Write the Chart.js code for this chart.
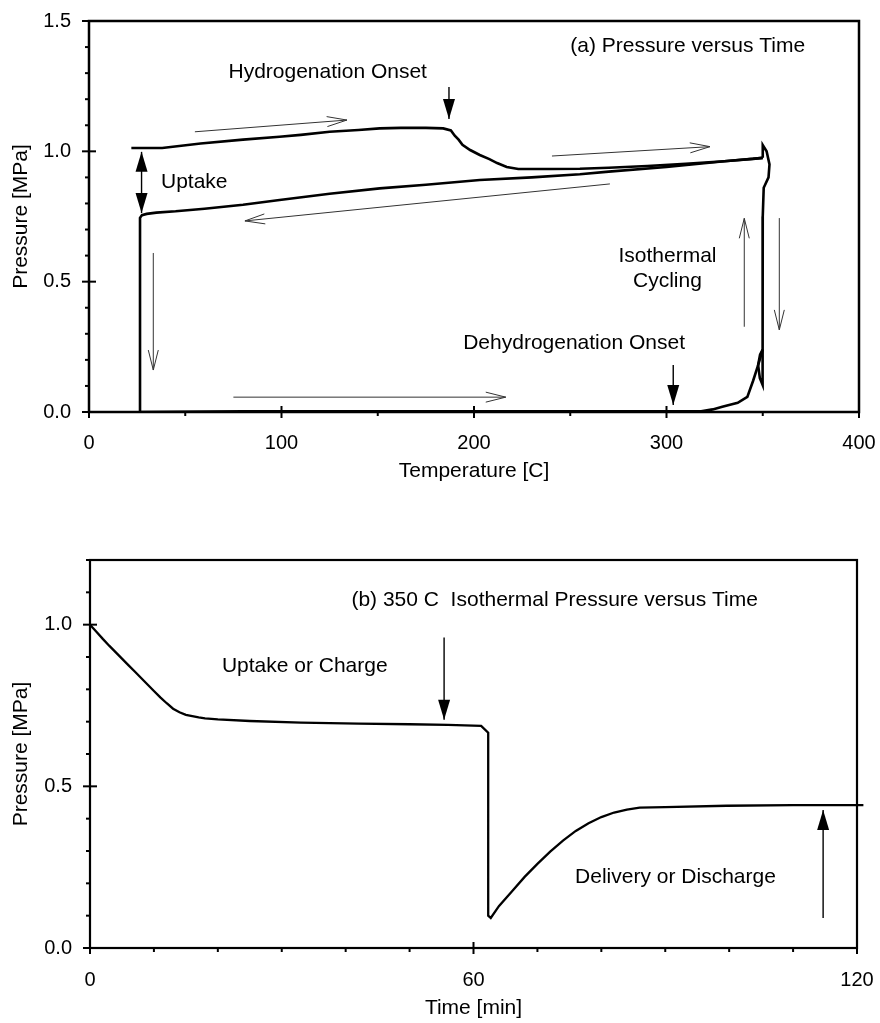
<!DOCTYPE html>
<html>
<head>
<meta charset="utf-8">
<title>Pressure cycling</title>
<script src="https://cdn.jsdelivr.net/npm/chart.js@4.4.1/dist/chart.umd.min.js"></script>
<style>
  html, body { margin: 0; padding: 0; background: #fff; }
  #wrap { position: relative; width: 880px; height: 1023px; }
  canvas { position: absolute; left: 0; }
  #tempChart { top: 0; }
  #timeChart { top: 520px; }
</style>
</head>
<body>
<div id="wrap">
  <canvas id="tempChart" width="880" height="520"></canvas>
  <canvas id="timeChart" width="880" height="503"></canvas>
</div>
<script>
// (a) pressure [MPa] against temperature [C]
// first heating under hydrogen
const heatChargedT = [22, 38, 58, 80, 99, 110, 125, 140, 151, 162, 175, 184, 188, 190, 192, 194, 198, 203, 208, 212, 217, 223, 240, 255, 270, 290, 310, 330, 345, 350];
const heatChargedP = [1.013, 1.013, 1.03, 1.045, 1.056, 1.063, 1.075, 1.082, 1.088, 1.09, 1.09, 1.088, 1.08, 1.06, 1.045, 1.025, 1.005, 0.986, 0.97, 0.955, 0.94, 0.932, 0.932, 0.933, 0.937, 0.944, 0.952, 0.962, 0.971, 0.975];
// cycling at 350 C
const isoT = [350, 350, 352, 353.5, 353, 350.5, 350, 350, 349.7, 350, 350, 348.5, 347.6, 348.6, 350];
const isoP = [0.975, 1.024, 1.0, 0.95, 0.9, 0.86, 0.75, 0.6, 0.5, 0.3, 0.104, 0.13, 0.18, 0.22, 0.24];
// cooling back down, then evacuated
const coolChargedT = [350, 330, 300, 270, 255, 230, 203, 175, 151, 125, 99, 80, 60, 45, 35, 30, 27.5, 26.5, 26.5];
const coolChargedP = [0.975, 0.962, 0.94, 0.922, 0.912, 0.9, 0.89, 0.872, 0.858, 0.837, 0.813, 0.795, 0.78, 0.77, 0.765, 0.76, 0.755, 0.745, 0];
// heating under vacuum until hydrogen is released
const heatEmptyT = [26.5, 80, 150, 220, 280, 318, 324, 329, 334, 337, 342, 345, 347.6, 350];
const heatEmptyP = [0, 0.003, 0.003, 0.003, 0.003, 0.003, 0.01, 0.02, 0.03, 0.035, 0.058, 0.12, 0.18, 0.24];

// (b) isothermal run at 350 C
const timeMin = [0, 1, 2, 3, 4, 5, 6, 7, 8, 9, 10, 11, 12, 13, 14, 15, 16, 17, 18, 20, 25, 33, 42, 50, 56, 61.2, 62.3, 62.3, 62.7, 64, 66, 68, 70, 72, 74, 76, 78, 80, 82, 84, 86, 90, 99.6, 110, 121];
const pressureMPa = [1.0, 0.978, 0.956, 0.935, 0.915, 0.895, 0.875, 0.855, 0.835, 0.815, 0.795, 0.775, 0.757, 0.74, 0.729, 0.721, 0.717, 0.713, 0.71, 0.707, 0.702, 0.697, 0.694, 0.692, 0.69, 0.687, 0.666, 0.1, 0.093, 0.13, 0.175, 0.22, 0.26, 0.298, 0.332, 0.362, 0.386, 0.405, 0.419, 0.428, 0.434, 0.436, 0.44, 0.442, 0.442];

const FONT = "'Liberation Sans', Arial, Helvetica, sans-serif";

function pts(xs, ys) {
    return xs.map((x, i) => ({x: x, y: ys[i]}));
}

function curve(data, width) {
    return {
        data: data,
        showLine: true,
        pointRadius: 0,
        borderColor: '#000',
        borderWidth: width,
        fill: false,
        tension: 0
    };
}

// box round the plot area plus major/minor tick marks
function boxAndTicks(marks) {
    return {
        id: 'boxAndTicks',
        afterDraw(chart) {
            const ctx = chart.ctx, a = chart.chartArea;
            const xs = chart.scales.x, ys = chart.scales.y;
            ctx.save();
            ctx.strokeStyle = '#000';
            ctx.lineWidth = marks.width;
            ctx.strokeRect(a.left, a.top, a.right - a.left, a.bottom - a.top);
            ctx.lineWidth = 2;
            const isMajor = (v, step) => Math.abs(v / step - Math.round(v / step)) < 1e-6;

            let n = Math.round((xs.max - xs.min) / marks.x[0]);
            for (let i = 0; i <= n; i++) {
                const v = xs.min + i * marks.x[0];
                const major = isMajor(v, marks.x[1]);
                const px = xs.getPixelForValue(v);
                ctx.beginPath();
                ctx.moveTo(px, a.bottom + (major ? 6 : 4));
                ctx.lineTo(px, a.bottom - (major ? 6 : 0));
                ctx.stroke();
            }
            n = Math.round((ys.max - ys.min) / marks.y[0]);
            for (let i = 0; i <= n; i++) {
                const v = ys.min + i * marks.y[0];
                const major = isMajor(v, marks.y[1]);
                const py = ys.getPixelForValue(v);
                ctx.beginPath();
                ctx.moveTo(a.left - (major ? 7 : 4), py);
                ctx.lineTo(a.left + (major ? 7 : 0), py);
                ctx.stroke();
            }
            ctx.restore();
        }
    };
}

function drawArrow(ctx, x1, y1, x2, y2, filled, both) {
    const ang = Math.atan2(y2 - y1, x2 - x1);
    const len = 20, half = filled ? 6 : 5;
    const head = (tx, ty, a) => {
        const bx = tx - len * Math.cos(a), by = ty - len * Math.sin(a);
        const ox = half * Math.sin(a), oy = -half * Math.cos(a);
        ctx.beginPath();
        if (filled) {
            ctx.moveTo(tx, ty);
            ctx.lineTo(bx + ox, by + oy);
            ctx.lineTo(bx - ox, by - oy);
            ctx.closePath();
            ctx.fill();
        } else {
            ctx.moveTo(bx + ox, by + oy);
            ctx.lineTo(tx, ty);
            ctx.lineTo(bx - ox, by - oy);
            ctx.stroke();
        }
    };
    ctx.beginPath();
    ctx.moveTo(x1, y1);
    ctx.lineTo(x2, y2);
    ctx.stroke();
    head(x2, y2, ang);
    if (both) head(x1, y1, ang + Math.PI);
}

// text labels and arrows placed in data units
function notes(labels, arrows) {
    return {
        id: 'notes',
        afterDraw(chart) {
            const ctx = chart.ctx;
            const xs = chart.scales.x, ys = chart.scales.y;
            ctx.save();
            ctx.fillStyle = '#000';
            ctx.font = '21px ' + FONT;
            ctx.textBaseline = 'middle';
            labels.forEach(l => {
                ctx.textAlign = l.align || 'center';
                ctx.fillText(l.text, xs.getPixelForValue(l.x), ys.getPixelForValue(l.y));
            });
            arrows.forEach(r => {
                ctx.strokeStyle = r.filled ? '#000' : '#333';
                ctx.lineWidth = r.filled ? 1.4 : 1;
                drawArrow(ctx,
                    xs.getPixelForValue(r.from[0]), ys.getPixelForValue(r.from[1]),
                    xs.getPixelForValue(r.to[0]), ys.getPixelForValue(r.to[1]),
                    r.filled, r.both);
            });
            ctx.restore();
        }
    };
}

// fixed axis box size; label overhang is left to the outer padding
function xBox(h) {
    return s => { s.height = h; s.paddingLeft = 0; s.paddingRight = 0; };
}
function yBox(w) {
    return s => { s.width = w; s.paddingTop = 0; s.paddingBottom = 0; };
}

function axis(min, max, step, digits, title, titlePad, tickPad, size) {
    return {
        type: 'linear',
        min: min,
        max: max,
        grid: { display: false, drawTicks: false },
        border: { display: false },
        ticks: {
            stepSize: step,
            padding: tickPad,
            color: '#000',
            font: { family: FONT, size: 20 },
            callback: v => Math.abs(v / step - Math.round(v / step)) < 1e-6 ? v.toFixed(digits) : null
        },
        title: {
            display: true,
            text: title,
            color: '#000',
            padding: titlePad,
            font: { family: FONT, size: 21 }
        },
        afterFit: size
    };
}

document.addEventListener('DOMContentLoaded', function () {
    new Chart(document.getElementById('tempChart'), {
        type: 'scatter',
        data: {
            datasets: [
                curve(pts(heatChargedT, heatChargedP), 2.6),
                curve(pts(isoT, isoP), 2.6),
                curve(pts(coolChargedT, coolChargedP), 2.6),
                curve(pts(heatEmptyT, heatEmptyP), 2.6)
            ]
        },
        options: {
            responsive: false,
            animation: false,
            layout: { padding: { top: 21, right: 21, left: 0, bottom: 0 } },
            scales: {
                x: axis(0, 400, 100, 0, 'Temperature [C]', { top: 0, bottom: 36 }, 19, xBox(108)),
                y: axis(0, 1.5, 0.5, 1, 'Pressure [MPa]', { top: 9, bottom: 0 }, 18, yBox(89))
            },
            plugins: { legend: { display: false }, tooltip: { enabled: false } }
        },
        plugins: [
            boxAndTicks({ width: 2.5, x: [50, 100], y: [0.1, 0.5] }),
            notes([
                { text: '(a) Pressure versus Time', x: 311, y: 1.404 },
                { text: 'Hydrogenation Onset', x: 124, y: 1.304 },
                { text: 'Uptake', x: 37.4, y: 0.883, align: 'left' },
                { text: 'Isothermal', x: 300.5, y: 0.596 },
                { text: 'Cycling', x: 300.5, y: 0.5 },
                { text: 'Dehydrogenation Onset', x: 252, y: 0.265 }
            ], [
                { from: [55, 1.075], to: [134, 1.12] },
                { from: [240.5, 0.982], to: [322.6, 1.018] },
                { from: [270.6, 0.875], to: [81, 0.733] },
                { from: [33.4, 0.61], to: [33.4, 0.161] },
                { from: [75, 0.057], to: [216.5, 0.057] },
                { from: [340.4, 0.327], to: [340.4, 0.743] },
                { from: [358.6, 0.744], to: [358.6, 0.315] },
                { from: [187, 1.247], to: [187, 1.124], filled: true },
                { from: [27.3, 0.998], to: [27.3, 0.763], filled: true, both: true },
                { from: [303.5, 0.18], to: [303.5, 0.027], filled: true }
            ])
        ]
    });

    const timeLine = curve(pts(timeMin, pressureMPa), 2.3);
    timeLine.clip = false;

    new Chart(document.getElementById('timeChart'), {
        type: 'scatter',
        data: { datasets: [timeLine] },
        options: {
            responsive: false,
            animation: false,
            layout: { padding: { top: 40, right: 23, left: 0, bottom: 0 } },
            scales: {
                x: axis(0, 120, 60, 0, 'Time [min]', { top: 0, bottom: 2 }, 20, xBox(75)),
                y: axis(0, 1.2, 0.5, 1, 'Pressure [MPa]', { top: 9, bottom: 0 }, 18, yBox(90))
            },
            plugins: { legend: { display: false }, tooltip: { enabled: false } }
        },
        plugins: [
            boxAndTicks({ width: 2.2, x: [10, 60], y: [0.1, 0.5] }),
            notes([
                { text: '(b) 350 C  Isothermal Pressure versus Time', x: 72.7, y: 1.077 },
                { text: 'Uptake or Charge', x: 33.6, y: 0.87 },
                { text: 'Delivery or Discharge', x: 91.6, y: 0.22 }
            ], [
                { from: [55.4, 0.96], to: [55.4, 0.706], filled: true },
                { from: [114.7, 0.093], to: [114.7, 0.427], filled: true }
            ])
        ]
    });
});
</script>
</body>
</html>
